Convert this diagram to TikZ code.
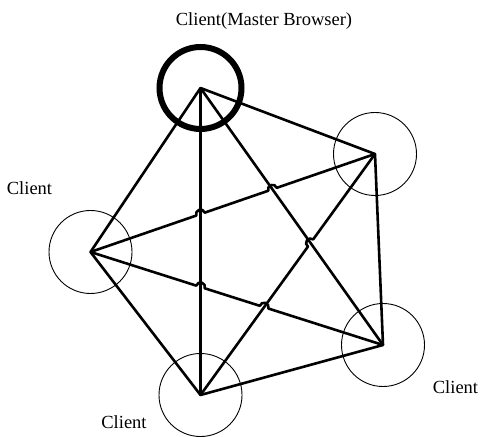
\documentclass[tikz,border=0pt]{standalone}
\usepackage{fontspec}
\setmainfont{Liberation Serif}
\usetikzlibrary{calc}
\begin{document}
\begin{tikzpicture}[x=1pt,y=1pt,
  client/.style={circle,draw,line width=0.9pt,minimum size=83pt,inner sep=0pt},
  master/.style={circle,draw,line width=6pt,minimum size=82pt,inner sep=0pt},
  link/.style={line width=2.6pt,line join=round},
  lbl/.style={font=\fontsize{18.5}{22}\selectfont,inner sep=0pt}]
\useasboundingbox (0,0) rectangle (481,436);
\def\hr{4.5pt}
% clients
\node[master] (A) at (200.5,348) {};
\node[client] (B) at (375,282) {};
\node[client] (C) at (90.5,184) {};
\node[client] (D) at (383,91) {};
\node[client] (E) at (200.5,41) {};
% labels
\node[lbl] (lA) at (264,415) {Client(Master Browser)};
\node[lbl] (lC) at (29.5,248) {Client};
\node[lbl] (lE) at (124,14) {Client};
\node[lbl] (lD) at (455.5,49) {Client};
% crossings
\coordinate (x1) at (intersection of A.center--E.center and C.center--B.center);
\coordinate (x2) at (intersection of A.center--D.center and C.center--B.center);
\coordinate (x3) at (intersection of A.center--E.center and C.center--D.center);
\coordinate (x4) at (intersection of B.center--E.center and C.center--D.center);
\coordinate (x5) at (intersection of A.center--D.center and E.center--B.center);
% straight links
\draw[link] (A.center) -- (B.center) -- (D.center) -- (E.center) -- (C.center) -- cycle;
\draw[link] (A.center) -- (D.center);
\draw[link] (A.center) -- (E.center);
% links with hops
\draw[link] let \p1=($(B.center)-(C.center)$), \n1={atan2(\y1,\x1)} in
  (C.center) -- ($(x1)!\hr!(C.center)$) arc[start angle=\n1+180,delta angle=-180,radius=\hr]
  -- ($(x2)!\hr!(C.center)$) arc[start angle=\n1+180,delta angle=-180,radius=\hr] -- (B.center);
\draw[link] let \p1=($(D.center)-(C.center)$), \n1={atan2(\y1,\x1)} in
  (C.center) -- ($(x3)!\hr!(C.center)$) arc[start angle=\n1+180,delta angle=-180,radius=\hr]
  -- ($(x4)!\hr!(C.center)$) arc[start angle=\n1+180,delta angle=-180,radius=\hr] -- (D.center);
\draw[link] let \p1=($(B.center)-(E.center)$), \n1={atan2(\y1,\x1)} in
  (E.center) -- ($(x5)!\hr!(E.center)$) arc[start angle=\n1+180,delta angle=-180,radius=\hr] -- (B.center);
\end{tikzpicture}
\end{document}
